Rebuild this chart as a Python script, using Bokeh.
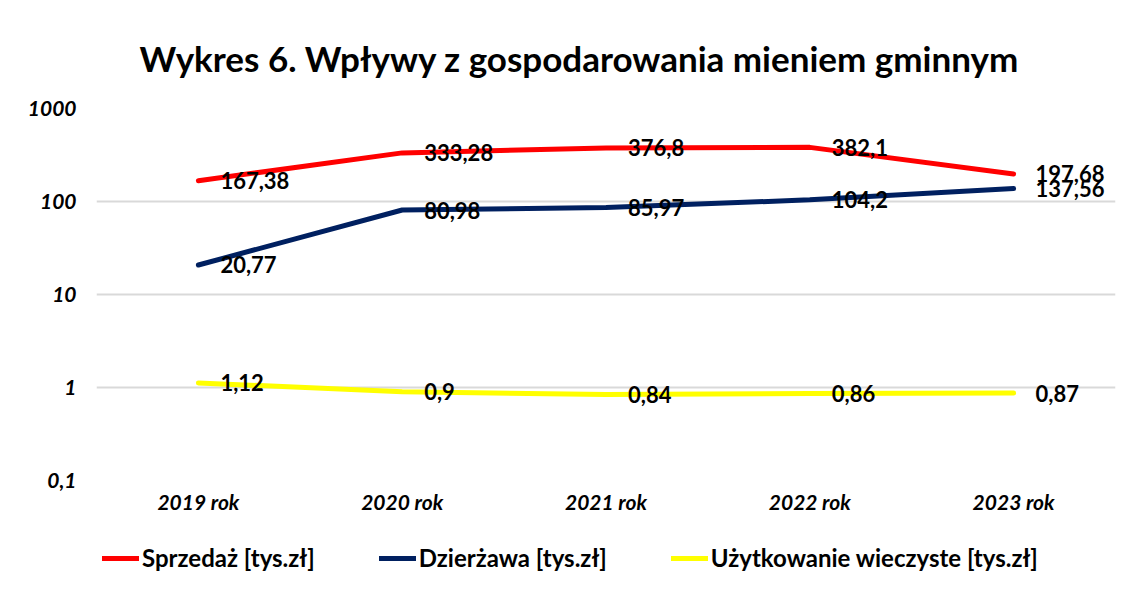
from bokeh.plotting import figure
from bokeh.layouts import column
from bokeh.models import (ColumnDataSource, LabelSet, Legend, LegendItem,
                          FixedTicker, Range1d)
from bokeh.core.properties import value
from bokeh.embed import file_html
from bokeh.resources import INLINE

# ---- data ----
years = ["2019 rok", "2020 rok", "2021 rok", "2022 rok", "2023 rok"]
sprzedaz = [167.38, 333.28, 376.8, 382.1, 197.68]
dzierzawa = [20.77, 80.98, 85.97, 104.2, 137.56]
uzytkowanie = [1.12, 0.9, 0.84, 0.86, 0.87]
series_names = ["Sprzedaż [tys.zł]", "Dzierżawa [tys.zł]", "Użytkowanie wieczyste [tys.zł]"]
y_ticks = [0.1, 1, 10, 100, 1000]
y_tick_labels = ["0,1", "1", "10", "100", "1000"]
title_text = "Wykres 6. Wpływy z gospodarowania mieniem gminnym"

colors = ["#ff0000", "#002060", "#ffff00"]
FONT = "Lato"

p = figure(x_range=years, y_axis_type="log", y_range=Range1d(0.1, 1000),
           width=1125, height=520, output_backend="svg", toolbar_location=None,
           min_border_left=96, min_border_right=10, min_border_top=108,
           min_border_bottom=40)
p.outline_line_color = None
p.background_fill_color = "white"

p.title.text = title_text
p.title.align = "left"
p.title.offset = 43
p.title.text_font = FONT
p.title.text_font_style = "bold"
p.title.text_font_size = "35px"
p.title.text_color = "black"
p.title.standoff = 60

# grid
p.xgrid.grid_line_color = None
p.ygrid.grid_line_color = "#d9d9d9"
p.ygrid.grid_line_width = 2
ticker = FixedTicker(ticks=y_ticks)
p.yaxis.ticker = ticker
p.ygrid.ticker = ticker
p.yaxis.major_label_overrides = {t: l for t, l in zip(y_ticks, y_tick_labels)}

for ax in (p.xaxis, p.yaxis):
    ax.axis_line_color = None
    ax.major_tick_line_color = None
    ax.minor_tick_line_color = None
    ax.major_label_text_font = FONT
    ax.major_label_text_font_style = "bold italic"
    ax.major_label_text_font_size = "21px"
    ax.major_label_text_color = "black"
p.yaxis.major_label_standoff = 14
p.xaxis.major_label_standoff = 2

# legend-only figure underneath (its lines lie outside its visible range)
p2 = figure(width=1125, height=70, output_backend="svg", toolbar_location=None,
            x_range=years, y_axis_type="log", y_range=Range1d(1e5, 1e6),
            min_border=0)
p2.axis.visible = False
p2.grid.visible = False
p2.outline_line_color = None

items = []
for name, vals, col in zip(series_names, [sprzedaz, dzierzawa, uzytkowanie], colors):
    src = ColumnDataSource(dict(x=years, y=vals,
                                t=[str(v).replace(".", ",") for v in vals]))
    p.line("x", "y", source=src, line_color=col, line_width=5, line_cap="round")
    p.add_layout(LabelSet(x="x", y="y", text="t", source=src, x_offset=22,
                          text_baseline="middle", text_font=value(FONT),
                          text_font_style="bold", text_font_size="22px",
                          text_color="black"))
    r2 = p2.line("x", "y", source=src, line_color=col, line_width=5, line_cap="round")
    items.append(LegendItem(label=name, renderers=[r2]))

legend = Legend(items=items, orientation="horizontal", location=(6, 18),
                label_text_font=FONT, label_text_font_style="bold",
                label_text_font_size="24px", label_text_color="black",
                glyph_width=37, label_standoff=3,
                spacing=64, padding=0, margin=0, border_line_color=None,
                background_fill_alpha=0)
p2.add_layout(legend, "center")

layout = column(p, p2, spacing=0)
open("out.html", "w").write(file_html(layout, INLINE))
